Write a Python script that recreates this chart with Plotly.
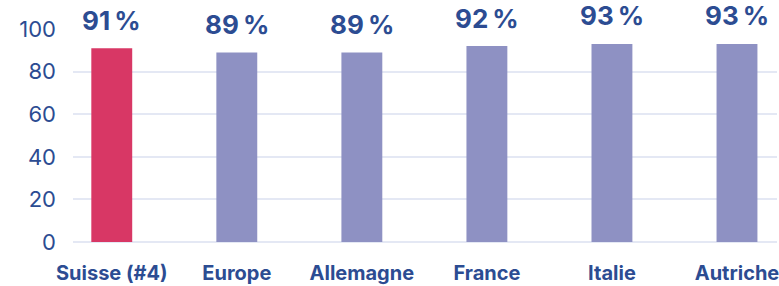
import plotly.graph_objects as go

categories = ["Suisse (#4)", "Europe", "Allemagne", "France", "Italie", "Autriche"]
values = [91, 89, 89, 92, 93, 93]
labels = ["91\u202f%", "89\u202f%", "89\u202f%", "92\u202f%", "93\u202f%", "93\u202f%"]
colors = ["#d83765", "#8e91c3", "#8e91c3", "#8e91c3", "#8e91c3", "#8e91c3"]

TXT = "#2c4c92"
FONT = "Inter, Roboto, sans-serif"

fig = go.Figure()
fig.add_trace(go.Bar(x=categories, y=values, marker=dict(color=colors, line=dict(width=0)),
                     width=0.327, hoverinfo="skip"))

for c, v, t in zip(categories, values, labels):
    fig.add_annotation(x=c, y=v, text=t, showarrow=False, yanchor="middle", yshift=28,
                       bgcolor="white", borderpad=0,
                       font=dict(family=FONT, size=26, color=TXT, weight="bold"))

fig.update_layout(
    width=779, height=286,
    margin=dict(l=73, r=0, t=29, b=44),
    paper_bgcolor="white", plot_bgcolor="white",
    showlegend=False,
    font=dict(family=FONT, color=TXT),
    xaxis=dict(range=[-0.31, 5.32], showgrid=False, showline=False, ticks="",
               tickfont=dict(family=FONT, size=20, color=TXT, weight="bold"), ticklabelstandoff=17),
    yaxis=dict(range=[0, 100], tickvals=[0, 20, 40, 60, 80, 100], showgrid=True,
               gridcolor="#e4e8f4", gridwidth=2, zeroline=True, zerolinecolor="#e4e8f4", zerolinewidth=2,
               tickfont=dict(family=FONT, size=22, color=TXT), ticklabelstandoff=16),
)

fig.write_html("out.html", config={"displayModeBar": False})
with open("out.html", "r", encoding="utf-8") as f:
    html = f.read()
html = html.replace("<head>", "<head><style>html,body{margin:0;padding:0;overflow:hidden;}</style>", 1)
with open("out.html", "w", encoding="utf-8") as f:
    f.write(html)
